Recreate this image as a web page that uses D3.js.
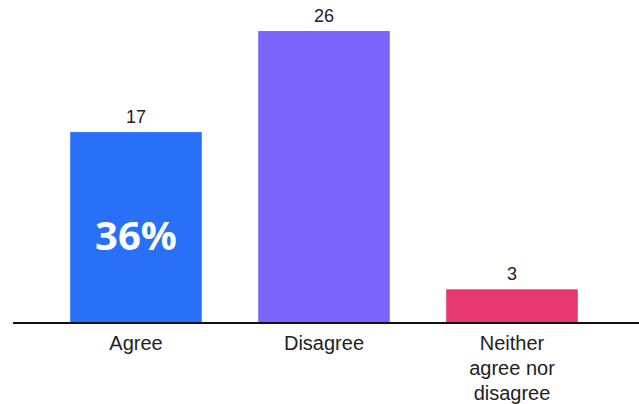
<!DOCTYPE html>
<html>
<head>
<meta charset="utf-8">
<script src="https://cdn.jsdelivr.net/npm/d3@7"></script>
<style>
  body { margin: 0; background: #fff; }
  svg { display: block; }
  .value { font-family: "Liberation Sans", Arial, sans-serif; font-size: 18px; fill: #222; }
  .cat { font-family: "Liberation Sans", Arial, sans-serif; font-size: 20px; fill: #222; }
</style>
</head>
<body>
<svg width="639" height="404"></svg>
<script>
const categories = ["Agree", "Disagree", "Neither agree nor disagree"];
const labelLines = [["Agree"], ["Disagree"], ["Neither", "agree nor", "disagree"]];
const values = [17, 26, 3];
const colors = ["#2970f8", "#7a66fd", "#e7386f"];
const highlight = "36%";

const svg = d3.select("svg");
const baseline = 323;

const x = d3.scaleBand()
    .domain(categories)
    .range([42, 606])
    .paddingInner(0.3)
    .paddingOuter(0.15);

const y = d3.scaleLinear()
    .domain([0, 26])
    .range([baseline, 31]);

svg.selectAll("rect.bar")
    .data(categories)
    .enter().append("rect")
    .attr("class", "bar")
    .attr("x", d => x(d))
    .attr("y", (d, i) => y(values[i]))
    .attr("width", x.bandwidth())
    .attr("height", (d, i) => baseline - y(values[i]))
    .attr("fill", (d, i) => colors[i]);

svg.selectAll("text.value")
    .data(categories)
    .enter().append("text")
    .attr("class", "value")
    .attr("x", d => x(d) + x.bandwidth() / 2)
    .attr("y", (d, i) => y(values[i]) - 9)
    .attr("text-anchor", "middle")
    .text((d, i) => values[i]);

// baseline
svg.append("line")
    .attr("x1", 13).attr("x2", 639)
    .attr("y1", baseline).attr("y2", baseline)
    .attr("stroke", "#111")
    .attr("stroke-width", 2);

const cats = svg.selectAll("text.cat")
    .data(categories)
    .enter().append("text")
    .attr("class", "cat")
    .attr("text-anchor", "middle");

cats.each(function(d, i) {
    d3.select(this).selectAll("tspan")
        .data(labelLines[i])
        .enter().append("tspan")
        .attr("x", x(d) + x.bandwidth() / 2)
        .attr("y", (t, j) => 350 + j * 25)
        .text(t => t);
});

svg.append("text")
    .attr("x", x("Agree") + x.bandwidth() / 2)
    .attr("y", 250)
    .attr("text-anchor", "middle")
    .attr("font-family", "'Open Sans', sans-serif")
    .attr("font-weight", "bold")
    .attr("font-size", 40)
    .attr("fill", "#fff")
    .text(highlight);
</script>
</body>
</html>
